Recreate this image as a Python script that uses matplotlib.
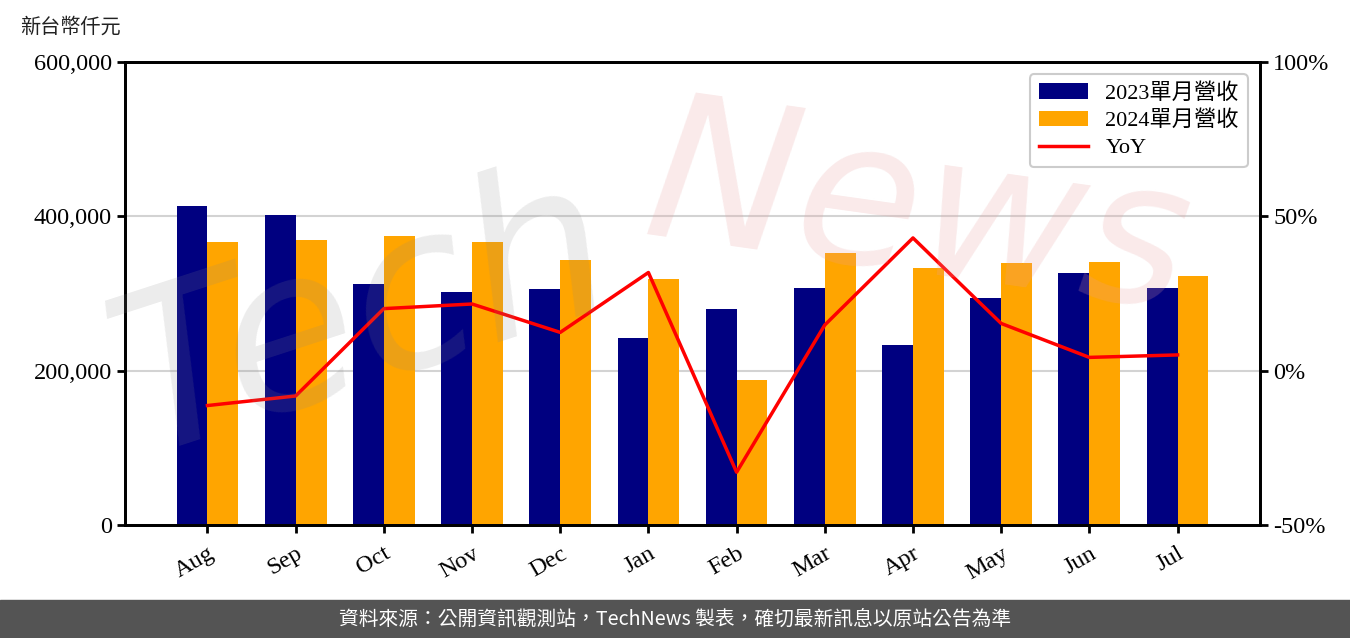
import matplotlib
matplotlib.use("Agg")
import matplotlib.pyplot as plt
from matplotlib.ticker import FuncFormatter, FixedLocator
import numpy as np

months = ["Aug", "Sep", "Oct", "Nov", "Dec", "Jan", "Feb", "Mar", "Apr", "May", "Jun", "Jul"]
rev_2023 = [413400, 401800, 312300, 302000, 305900, 242400, 279900, 307200, 233300, 294200, 326600, 307200]
rev_2024 = [366800, 369400, 374500, 366800, 343400, 318800, 187900, 352500, 333100, 339600, 340900, 322700]
yoy = [-11.3, -8.2, 20.1, 21.6, 12.4, 31.8, -32.9, 14.8, 43.0, 15.3, 4.3, 5.1]

label_2023 = "2023單月營收"
label_2024 = "2024單月營收"
label_yoy = "YoY"
unit_label = "新台幣仟元"
footer = "資料來源：公開資訊觀測站，TechNews 製表，確切最新訊息以原站公告為準"

serif = ["Liberation Serif", "Noto Sans CJK TC", "DejaVu Serif"]
sans = ["Noto Sans CJK TC", "DejaVu Sans"]

fig = plt.figure(figsize=(13.5, 6.38), dpi=100)
ax = fig.add_axes([125/1350, 113/638, 1135/1350, 463/638])
ax2 = ax.twinx()

x = np.arange(len(months))
w = 0.35
b1 = ax.bar(x, rev_2023, width=-w, align="edge", color="#000080", label=label_2023, zorder=2)
b2 = ax.bar(x, rev_2024, width=w, align="edge", color="#FFA500", label=label_2024, zorder=2)
ln, = ax2.plot(x, yoy, color="red", lw=2.5, label=label_yoy, zorder=3)

ax.set_ylim(0, 600000)
ax.yaxis.set_major_locator(FixedLocator([0, 200000, 400000, 600000]))
ax.yaxis.set_major_formatter(FuncFormatter(lambda v, p: f"{int(v):,}"))
ax.grid(axis="y", color="#d3d3d3", lw=1.5, zorder=0)
ax.set_axisbelow(True)

ax2.set_ylim(-50, 100)
ax2.yaxis.set_major_locator(FixedLocator([-50, 0, 50, 100]))
ax2.yaxis.set_major_formatter(FuncFormatter(lambda v, p: f"{int(v)}%"))

ax.set_xticks(x)
ax.set_xticklabels(months, rotation=30, ha="right", rotation_mode="anchor", family=serif, fontsize=17.5)

for a in (ax, ax2):
    for s in a.spines.values():
        s.set_linewidth(2)
        s.set_color("black")
    a.tick_params(width=2, length=6, labelsize=17.5)
    for lab in a.get_yticklabels():
        lab.set_family(serif)

ax.tick_params(axis="x", pad=7)

fig.text(20/1350, 1 - 27/638, unit_label, family=sans, fontsize=14.5, va="center", ha="left", color="#222222")

leg = ax.legend(handles=[b1, b2, ln], loc="upper right", prop={"family": serif, "size": 16},
                frameon=True, fancybox=True, edgecolor="#cccccc", framealpha=1,
                borderaxespad=0.55, handlelength=2.2, labelspacing=0.3)
leg.get_frame().set_linewidth(1.5)
leg.set_zorder(10)

# watermark
fig.text(0.27, 0.50, "Tech", fontsize=160, color="#888888", alpha=0.16, rotation=18,
         ha="center", va="center", style="italic", family="DejaVu Sans", zorder=5)
fig.text(0.68, 0.66, "News", fontsize=145, color="#e8a0a0", alpha=0.22, rotation=-8,
         ha="center", va="center", style="italic", family="DejaVu Sans", zorder=5)

# footer band
fig.patches.append(plt.Rectangle((0, 0), 1, 38/638, transform=fig.transFigure,
                                 color="#545454", zorder=0))
fig.text(0.5, 19/638, footer, family=sans, fontsize=14.2, color="white", ha="center", va="center")

fig.savefig("out.png", dpi=100)
